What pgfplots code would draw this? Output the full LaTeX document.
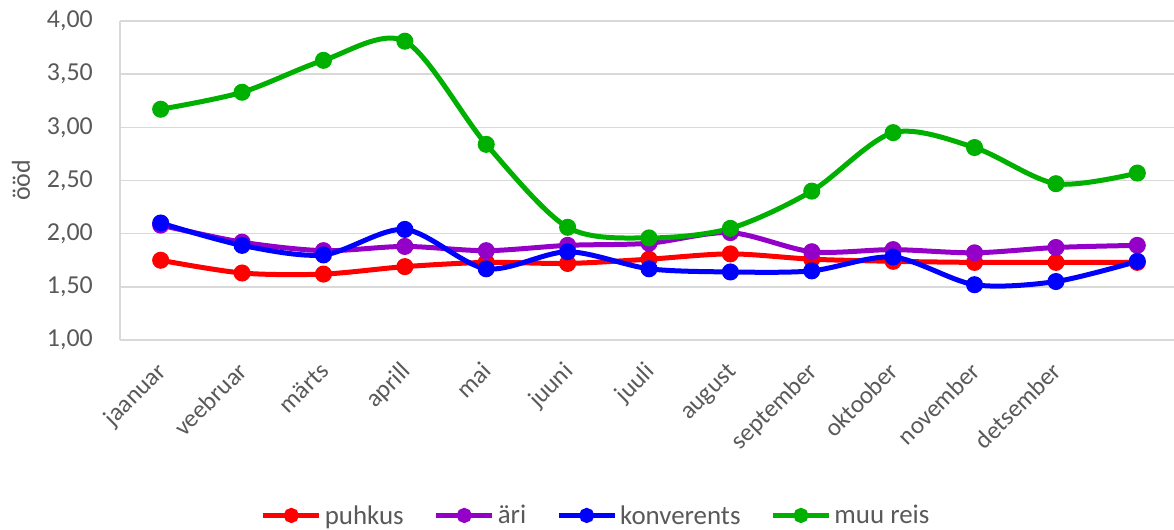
\documentclass[border=0pt]{standalone}
\usepackage{pgfplots}
\pgfplotsset{compat=1.18}
\usepackage{fontspec}
\setmainfont{Carlito}

\definecolor{txt}{HTML}{595959}
\definecolor{gridc}{HTML}{D9D9D9}
\definecolor{cpuh}{HTML}{FF0000}
\definecolor{cari}{HTML}{9400C8}
\definecolor{ckon}{HTML}{0000FF}
\definecolor{cmuu}{HTML}{00B000}

\begin{document}
\begin{tikzpicture}
\begin{axis}[
    name=ax,
    scale only axis,
    width=1058bp, height=319bp,
    xmin=-0.5, xmax=12.5,
    ymin=1, ymax=4,
    ytick={1,1.5,...,4},
    xtick={0,...,11},
    xticklabels={jaanuar,veebruar,märts,aprill,mai,juuni,juuli,august,september,oktoober,november,detsember},
    extra x ticks={-0.5},
    extra x tick labels={},
    extra x tick style={xmajorgrids=true},
    ymajorgrids,
    grid style={gridc, line width=1.6bp},
    axis line style={draw=none},
    major tick length=0pt,
    font=\fontsize{26}{30}\selectfont,
    tick label style={txt},
    /pgf/number format/.cd, fixed, fixed zerofill, precision=2, use comma, assume math mode=true,
    /pgfplots/.cd,
    yticklabel style={inner sep=0pt, anchor=east, xshift=-27bp},
    xticklabel style={font=\fontsize{25}{28}\selectfont, inner sep=0pt, text height=0.7em, text depth=0.2em,
        xshift=5bp, yshift=-31bp, rotate=45, anchor=east},
    ylabel={ööd},
    every axis y label/.style={at={(axis description cs:-0.0936,0.5)}, rotate=90, anchor=center, txt},
    legend columns=4,
    legend style={draw=none, fill=none, at={(0.4505,-0.55)}, anchor=center,
        font=\fontsize{27}{30}\selectfont, text=txt,
        /tikz/every even column/.append style={column sep=27bp},
        /tikz/every odd column/.append style={column sep=0bp},
        nodes={inner xsep=3bp, inner ysep=0bp}},
    legend image code/.code={
        \draw[mark repeat=2, mark phase=2, mark size=5bp] plot coordinates {(0bp,0bp) (28bp,0bp) (56bp,0bp)};
    },
    every axis plot/.append style={line width=5bp, smooth, tension=0.5, mark=*, mark size=6bp},
]
\addplot[cpuh, mark options={fill=cpuh}] coordinates {
(0,1.75) (1,1.63) (2,1.62) (3,1.69) (4,1.73) (5,1.72) (6,1.76) (7,1.81) (8,1.76) (9,1.74) (10,1.73) (11,1.73) (12,1.73)};
\addlegendentry{puhkus}
\addplot[cari, mark options={fill=cari}] coordinates {
(0,2.08) (1,1.92) (2,1.84) (3,1.88) (4,1.84) (5,1.89) (6,1.91) (7,2.01) (8,1.83) (9,1.85) (10,1.82) (11,1.87) (12,1.89)};
\addlegendentry{äri}
\addplot[ckon, mark options={fill=ckon}] coordinates {
(0,2.10) (1,1.89) (2,1.80) (3,2.04) (4,1.67) (5,1.83) (6,1.67) (7,1.64) (8,1.65) (9,1.78) (10,1.52) (11,1.55) (12,1.74)};
\addlegendentry{konverents}
\addplot[cmuu, mark options={fill=cmuu}] coordinates {
(0,3.17) (1,3.33) (2,3.63) (3,3.81) (4,2.84) (5,2.06) (6,1.96) (7,2.05) (8,2.40) (9,2.95) (10,2.81) (11,2.47) (12,2.57)};
\addlegendentry{muu reis}
\end{axis}
\pgfresetboundingbox
\path (ax.south west) ++(-120bp,-190bp) rectangle ([shift={(1054bp,21bp)}]ax.north west);
\end{tikzpicture}
\end{document}
